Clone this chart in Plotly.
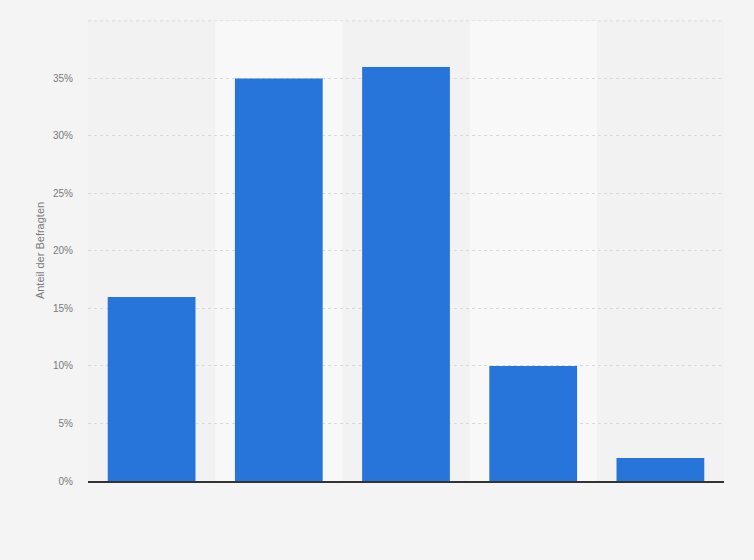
import plotly.graph_objects as go

categories = ["Kategorie 1", "Kategorie 2", "Kategorie 3", "Kategorie 4", "Kategorie 5"]
values = [16, 35, 36, 10, 2]
y_ticks = [0, 5, 10, 15, 20, 25, 30, 35, 40]
y_tick_labels = ["0%", "5%", "10%", "15%", "20%", "25%", "30%", "35%", ""]

fig = go.Figure()
fig.add_trace(go.Bar(
    x=categories,
    y=values,
    marker=dict(color="#2775db", line=dict(width=0)),
    width=0.69,
    hovertemplate="%{y}%<extra></extra>",
))

# lighter bands behind every second category
for i in (1, 3):
    fig.add_shape(type="rect", xref="x", yref="y", x0=i - 0.5, x1=i + 0.5, y0=0, y1=40,
                  fillcolor="#f8f8f8", line=dict(width=0), layer="below")
# top gridline at the range edge
fig.add_shape(type="line", xref="paper", yref="y", x0=0, x1=1, y0=40, y1=40,
              line=dict(color="#d9d9d9", width=1, dash="dot"), layer="below")

fig.update_xaxes(showticklabels=False, showgrid=False, showline=True, linecolor="#333333",
                 linewidth=1.5, range=[-0.5, 4.5], zeroline=False)
fig.update_yaxes(range=[0, 40.08], tickvals=y_ticks, ticktext=y_tick_labels,
                 showgrid=True, gridcolor="#d9d9d9", griddash="dot", gridwidth=1,
                 zeroline=False, ticklabelstandoff=14,
                 tickfont=dict(size=10, color="#7a7a7a", family="Arial"),
                 title=dict(text="Anteil der Befragten", font=dict(size=11, color="#7a7a7a", family="Arial"),
                            standoff=6))

fig.update_layout(
    width=754, height=560,
    paper_bgcolor="#f4f4f4", plot_bgcolor="#f2f2f2",
    margin=dict(l=88, r=30, t=20, b=79),
    showlegend=False,
    bargap=0.31,
    font=dict(family="Arial"),
)
fig.write_html("out.html", config={"displayModeBar": False},
               post_script="document.body.style.margin='0';")
